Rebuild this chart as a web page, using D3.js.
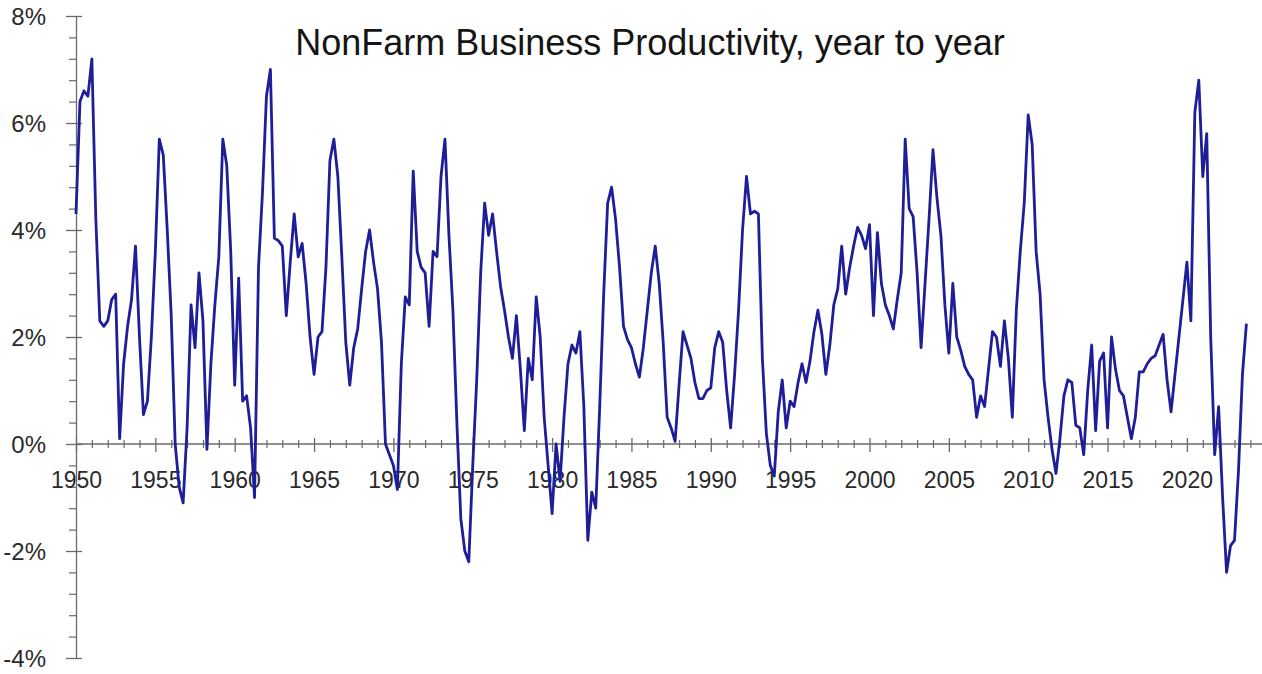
<!DOCTYPE html>
<html><head><meta charset="utf-8">
<script src="https://cdn.jsdelivr.net/npm/d3@7"></script>
<style>body{margin:0;background:#fff;overflow:hidden}</style>
</head><body>
<svg id="chart" width="1262" height="674"></svg>
<script>
const chartTitle = "NonFarm Business Productivity, year to year";
const startYear = 1950;
const periodsPerYear = 4;
// Quarterly year-over-year growth, %, starting 1950 Q1
const productivity = [
  4.3, 6.4, 6.6, 6.5, 7.2, 4.2, 2.3, 2.2, 2.3, 2.7,
  2.8, 0.1, 1.5, 2.2, 2.7, 3.7, 2.0, 0.55, 0.8, 2.0,
  3.6, 5.7, 5.4, 4.0, 2.4, 0.0, -0.8, -1.1, 0.3, 2.6,
  1.8, 3.2, 2.3, -0.1, 1.5, 2.6, 3.5, 5.7, 5.2, 3.6,
  1.1, 3.1, 0.8, 0.9, 0.3, -1.0, 3.3, 4.7, 6.5, 7.0,
  3.85, 3.8, 3.7, 2.4, 3.4, 4.3, 3.5, 3.75, 3.0, 2.0,
  1.3, 2.0, 2.1, 3.3, 5.3, 5.7, 5.0, 3.5, 1.9, 1.1,
  1.8, 2.15, 2.9, 3.6, 4.0, 3.4, 2.9, 1.9, 0.0, -0.2,
  -0.4, -0.85, 1.5, 2.75, 2.6, 5.1, 3.6, 3.3, 3.2, 2.2,
  3.6, 3.5, 5.0, 5.7, 3.9, 2.5, 0.4, -1.4, -2.0, -2.2,
  -0.4, 1.2, 3.2, 4.5, 3.9, 4.3, 3.6, 2.95, 2.5, 2.0,
  1.6, 2.4, 1.4, 0.25, 1.6, 1.2, 2.75, 2.0, 0.5, -0.4,
  -1.3, 0.0, -0.7, 0.5, 1.5, 1.85, 1.7, 2.1, 0.7, -1.8,
  -0.9, -1.2, 0.7, 2.8, 4.5, 4.8, 4.2, 3.3, 2.2, 1.95,
  1.8, 1.5, 1.25, 1.8, 2.5, 3.2, 3.7, 3.0, 1.9, 0.5,
  0.3, 0.05, 1.1, 2.1, 1.85, 1.6, 1.15, 0.85, 0.85, 1.0,
  1.05, 1.8, 2.1, 1.9, 1.0, 0.3, 1.3, 2.5, 4.0, 5.0,
  4.3, 4.35, 4.3, 1.6, 0.2, -0.4, -0.6, 0.6, 1.2, 0.3,
  0.8, 0.7, 1.15, 1.5, 1.15, 1.55, 2.1, 2.5, 2.05, 1.3,
  1.85, 2.6, 2.9, 3.7, 2.8, 3.3, 3.7, 4.05, 3.9, 3.65,
  4.1, 2.4, 3.95, 3.0, 2.6, 2.4, 2.15, 2.7, 3.2, 5.7,
  4.4, 4.25, 3.2, 1.8, 3.0, 4.2, 5.5, 4.6, 3.9, 2.6,
  1.7, 3.0, 2.0, 1.75, 1.45, 1.3, 1.2, 0.5, 0.9, 0.7,
  1.4, 2.1, 2.0, 1.45, 2.3, 1.6, 0.5, 2.5, 3.6, 4.5,
  6.15, 5.6, 3.6, 2.8, 1.2, 0.5, -0.1, -0.55, 0.1, 0.9,
  1.2, 1.15, 0.35, 0.3, -0.2, 1.0, 1.85, 0.25, 1.55, 1.7,
  0.3, 2.0, 1.4, 1.0, 0.9, 0.5, 0.1, 0.5, 1.35, 1.35,
  1.5, 1.6, 1.65, 1.85, 2.05, 1.2, 0.6, 1.3, 2.0, 2.7,
  3.4, 2.3, 6.2, 6.8, 5.0, 5.8, 2.0, -0.2, 0.7, -1.0,
  -2.4, -1.9, -1.8, -0.5, 1.3, 2.25
];
const yearLabels = [1950, 1955, 1960, 1965, 1970, 1975, 1980, 1985, 1990, 1995, 2000, 2005, 2010, 2015, 2020];
const yearMinor = d3.range(1950, 2025, 1);
const pctLabels = [-4, -2, 0, 2, 4, 6, 8];
const pctMinor = d3.range(-4, 8.001, 0.4);

const svg = d3.select("#chart");
const axisX = 76;
const x = d3.scaleLinear().domain([1950, 2025]).range([axisX, axisX + 75 * 15.87]);
const y = d3.scaleLinear().domain([-4, 8]).range([658, 16]);

const axisColor = "#6a6a6a";
const textColor = "#2a2a2a";
const font = "'Liberation Sans', Arial, sans-serif";

// Title
svg.append("text")
  .attr("x", 650).attr("y", 55)
  .attr("text-anchor", "middle")
  .style("font-family", font).style("font-size", "36px").style("fill", "#151515")
  .text(chartTitle);

// Y axis (major)
const yAxis = svg.append("g").attr("transform", `translate(${axisX},0)`)
  .call(d3.axisLeft(y).tickValues(pctLabels).tickFormat(d => d + "%").tickSizeInner(10).tickSizeOuter(0).tickPadding(20));
yAxis.select(".domain").attr("stroke", axisColor).attr("stroke-width", 1.3);
yAxis.selectAll(".tick line").attr("stroke", axisColor).attr("stroke-width", 1.3).attr("x2", 6).attr("x1", -10);
yAxis.selectAll(".tick text").style("font-family", font).style("font-size", "24px").attr("fill", textColor).attr("dy", "0.36em");
// Y minor ticks
const yMinorG = svg.append("g").attr("transform", `translate(${axisX},0)`)
  .call(d3.axisLeft(y).tickValues(pctMinor.filter(v => Math.abs(v / 2 - Math.round(v / 2)) > 1e-6)).tickFormat("").tickSizeInner(7).tickSizeOuter(0));
yMinorG.select(".domain").remove();
yMinorG.selectAll(".tick line").attr("stroke", axisColor).attr("stroke-width", 1.2);

// X axis at 0%
const xAxisG = svg.append("g").attr("transform", `translate(0,${y(0)})`);
xAxisG.append("line").attr("x1", axisX).attr("x2", 1262).attr("y1", 0).attr("y2", 0)
  .attr("stroke", axisColor).attr("stroke-width", 1.3);
const xMinor = xAxisG.append("g")
  .call(d3.axisBottom(x).tickValues(yearMinor.filter(v => v % 5 !== 0)).tickFormat("").tickSizeOuter(0));
xMinor.select(".domain").remove();
xMinor.selectAll(".tick line").attr("y1", -4).attr("y2", 4).attr("stroke", axisColor).attr("stroke-width", 1.2);
const xMajor = xAxisG.append("g")
  .call(d3.axisBottom(x).tickValues(yearLabels).tickFormat(d3.format("d")).tickSizeOuter(0).tickPadding(24));
xMajor.select(".domain").remove();
xMajor.selectAll(".tick line").attr("y1", -6).attr("y2", 8).attr("stroke", axisColor).attr("stroke-width", 1.3);
xMajor.selectAll(".tick text").style("font-family", font).style("font-size", "23px").attr("fill", textColor).attr("dy", "0.62em");

// Line
const series = productivity.map((v, i) => ({ t: startYear + i / periodsPerYear, v }));
svg.append("path")
  .datum(series)
  .attr("fill", "none")
  .attr("stroke", "#1e1e98")
  .attr("stroke-width", 2.8)
  .attr("stroke-linejoin", "round")
  .attr("d", d3.line().x(d => x(d.t)).y(d => y(d.v)));
</script>
</body></html>
